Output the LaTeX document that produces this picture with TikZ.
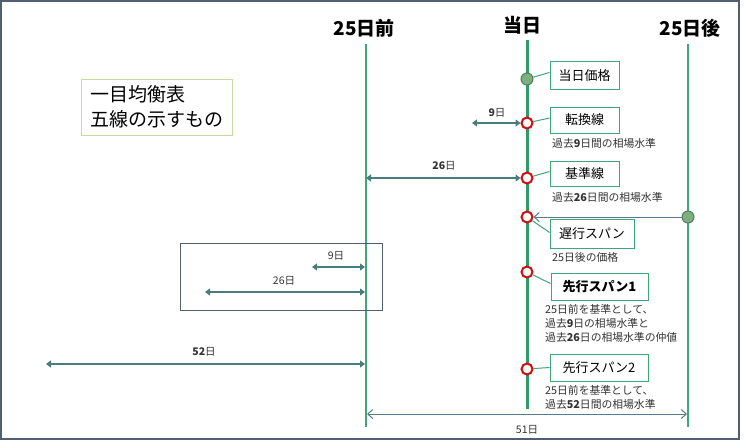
\documentclass[tikz,border=0pt]{standalone}
\usepackage{fontspec}
\setmainfont{Noto Sans CJK JP}
\usetikzlibrary{arrows.meta,calc}
\definecolor{frm}{HTML}{4F5F6F}
\definecolor{gl}{HTML}{3DA67A}
\definecolor{gld}{HTML}{2E9B68}
\definecolor{arr}{HTML}{4A7C7C}
\definecolor{thinc}{HTML}{5A7A8A}
\definecolor{rd}{HTML}{D01010}
\definecolor{gf}{HTML}{7FAF7F}
\definecolor{gd}{HTML}{4F7F5F}
\definecolor{tb}{HTML}{C5DBA0}
\definecolor{txt}{HTML}{333333}
\tikzset{
  hdr/.style={font=\bfseries\fontsize{19}{21}\selectfont, inner sep=0pt},
  vline/.style={draw=gl, line width=1.4pt},
  mainline/.style={draw=gld, line width=3pt},
  redc/.style={circle, draw=rd, fill=white, line width=2pt, minimum size=11pt, inner sep=0pt},
  grnc/.style={circle, draw=gd, fill=gf, line width=1pt, minimum size=12pt, inner sep=0pt},
  lbox/.style={draw=gl, fill=white, line width=1pt, font=\fontsize{13}{15}\selectfont, inner sep=0pt},
  conn/.style={draw=gl, line width=1pt},
  desc/.style={anchor=west, font=\fontsize{10.8}{12}\selectfont, text=txt, inner sep=0pt},
  alab/.style={font=\fontsize{10.5}{12}\selectfont, text=txt, inner sep=1pt},
  darr/.style={draw=arr, line width=2.6pt, {Triangle[length=5pt,width=7pt]}-{Triangle[length=5pt,width=7pt]}},
  tarr/.style={draw=thinc, line width=1pt, -{Straight Barb[length=5pt,width=9pt]}},
  tdarr/.style={draw=thinc, line width=1pt, {Straight Barb[length=5pt,width=9pt]}-{Straight Barb[length=5pt,width=9pt]}},
}
\begin{document}
\begin{tikzpicture}[x=1pt,y=-1pt]
\useasboundingbox (0,0) rectangle (744,444);
\draw[frm, line width=1.5pt] (1,1) rectangle (739,439);

% headers
\node[hdr] (h1) at (364,28) {25日前};
\node[hdr] (h2) at (522,25) {当日};
\node[hdr] (h3) at (690,28) {25日後};

% title box
\node[draw=tb, line width=1pt, minimum width=151pt, minimum height=56pt, align=left,
      font=\fontsize{19}{25}\selectfont, inner sep=0pt] (title) at (156.5,107) {一目均衡表\\五線の示すもの};

% vertical lines
\coordinate (t1) at (366,44); \coordinate (b1) at (366,427);
\coordinate (t2) at (527,40); \coordinate (b2) at (527,409);
\coordinate (t3) at (688,44); \coordinate (b3) at (688,427);
\draw[vline] (t1) -- (b1);
\draw[vline] (t3) -- (b3);
\draw[mainline] (t2) -- (b2);

% boxes
\node[lbox, minimum width=69pt, minimum height=27pt] (k1) at (584.5,75.5) {当日価格};
\node[lbox, minimum width=69pt, minimum height=26pt] (k2) at (584.5,120) {転換線};
\node[lbox, minimum width=69pt, minimum height=25pt] (k3) at (584.5,173.5) {基準線};
\node[lbox, minimum width=84pt, minimum height=29pt] (k4) at (592,233.5) {遅行スパン};
\node[lbox, minimum width=97pt, minimum height=27pt] (k5) at (599.5,286.5) {\bfseries 先行スパン1};
\node[lbox, minimum width=98pt, minimum height=27pt] (k6) at (599,367.5) {先行スパン2};

% descriptions
\node[desc] (d2) at (552,143) {過去\textbf{9}日間の相場水準};
\node[desc] (d3) at (552,197) {過去\textbf{26}日間の相場水準};
\node[desc] (d4) at (552,257) {25日後の価格};
\node[desc, align=left, font=\fontsize{10.8}{14}\selectfont] (d5) at (545,323) {25日前を基準として、\\過去\textbf{9}日の相場水準と\\過去\textbf{26}日の相場水準の仲値};
\node[desc, align=left, font=\fontsize{10.8}{14}\selectfont] (d6) at (545,397) {25日前を基準として、\\過去\textbf{52}日間の相場水準};

% circles
\node[grnc] (c1) at (527,79) {};
\node[redc] (c2) at (527,123) {};
\node[redc] (c3) at (527,178) {};
\node[redc] (c4) at (527,217) {};
\node[redc] (c5) at (527,272) {};
\node[redc] (c6) at (527,369) {};
\node[grnc] (g2) at (688,217) {};

% connectors circle -> box
\draw[conn] (c1) -- ($(k1.west)+(0,-3)$);
\draw[conn] (c2) -- ($(k2.west)+(0,-2)$);
\draw[conn] (c3) -- ($(k3.west)+(0,-2)$);
\draw[conn] (c4) -- ($(k4.west)+(0,-1)$);
\draw[conn] (c5) -- ($(k5.west)+(0,-3)$);
\draw[conn] (c6) -- (k6.west);

% range arrows
\coordinate (e9) at (472,123);
\draw[darr] (e9) -- (c2);
\node[alab] (l9) at (497,113) {\textbf{9}日};
\coordinate (e26) at (366,178);
\draw[darr] (e26) -- (c3);
\node[alab] (l26) at (444,166) {\textbf{26}日};

\draw[tarr] (g2) -- (c4);

% explanation box
\node[draw=frm, line width=1pt, minimum width=202pt, minimum height=67pt, inner sep=0pt] (ebox) at (281,276.5) {};
\coordinate (p9a) at (312,267); \coordinate (p9b) at (365,267);
\draw[darr] (p9a) -- (p9b);
\node[alab] (lb9) at (336,256) {9日};
\coordinate (p26a) at (205,292); \coordinate (p26b) at (365,292);
\draw[darr] (p26a) -- (p26b);
\node[alab] (lb26) at (284,281) {26日};

% 52 days
\coordinate (p52a) at (46,364); \coordinate (p52b) at (365,364);
\draw[darr] (p52a) -- (p52b);
\node[alab] (l52) at (204,352) {\textbf{52}日};

% 51 days
\coordinate (q1) at (367,414); \coordinate (q2) at (687,414);
\draw[tdarr] (q1) -- (q2);
\node[alab, fill=white, inner sep=2pt] (l51) at (527,430) {51日};
\end{tikzpicture}
\end{document}
